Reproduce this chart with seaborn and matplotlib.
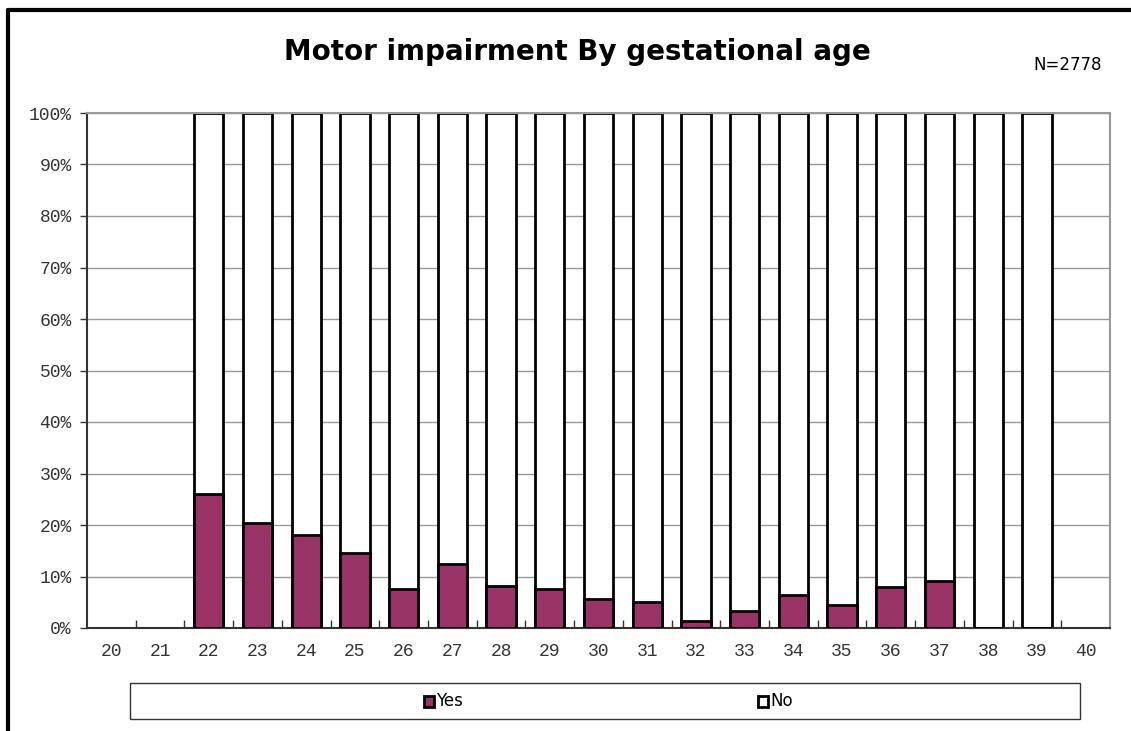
import numpy as np
import pandas as pd
import matplotlib.pyplot as plt
import seaborn as sns
from matplotlib.patches import Rectangle

# gestational ages on the axis (20, 21, 40 have no data)
all_weeks = [str(w) for w in range(20, 41)]
weeks = [str(w) for w in range(22, 40)]
yes_pct = [26.0, 20.4, 18.1, 14.6, 7.6, 12.4, 8.2, 7.6, 5.6, 5.0,
           1.4, 3.3, 6.4, 4.5, 8.0, 9.1, 0.0, 0.0]
no_pct = [100 - v for v in yes_pct]

df = pd.DataFrame({'week': weeks, 'Yes': yes_pct, 'No': no_pct})
df['total'] = df['Yes'] + df['No']

sns.set_style('white')
plt.rcParams['font.family'] = ['DejaVu Sans']
plt.rcParams['text.color'] = 'black'

fig = plt.figure(figsize=(11.31, 7.31), dpi=100)
ax = fig.add_axes([87 / 1131, 1 - 628 / 731, (1110 - 87) / 1131, (628 - 113) / 731])

purple = '#993366'
sns.barplot(data=df, x='week', y='total', order=all_weeks, color='white',
            edgecolor='black', linewidth=2, width=0.6, saturation=1, ax=ax, zorder=2)
sns.barplot(data=df, x='week', y='Yes', order=all_weeks, color=purple,
            edgecolor='black', linewidth=2, width=0.6, saturation=1, ax=ax, zorder=3)

ax.set_ylim(0, 100)
ax.set_xlim(-0.5, len(all_weeks) - 0.5)
ax.set_yticks(np.arange(0, 101, 10))
ax.set_yticklabels([f'{v}%' for v in range(0, 101, 10)],
                   family='Liberation Mono', fontsize=13, color='#333333')
ax.set_xticks(range(len(all_weeks)))
ax.set_xticklabels(all_weeks, family='Liberation Mono', fontsize=13, color='#333333')
ax.tick_params(axis='x', length=0, pad=11)
ax.tick_params(axis='y', length=5, width=1, color='#333333', direction='out', pad=6, left=True)
# small inward tick marks between categories
ax.set_xticks(np.arange(0.5, len(all_weeks) - 0.5, 1), minor=True)
ax.tick_params(axis='x', which='minor', length=6, width=1, color='#333333', direction='in', bottom=True)
ax.set_xlabel('')
ax.set_ylabel('')
ax.grid(axis='y', color='#999999', linewidth=1, zorder=0)
ax.set_axisbelow(True)
for side in ['top', 'right']:
    ax.spines[side].set_color('#999999')
    ax.spines[side].set_linewidth(1.5)
for side in ['left', 'bottom']:
    ax.spines[side].set_color('#333333')
    ax.spines[side].set_linewidth(1.5)

fig.text(577 / 1131, 1 - 52 / 731, 'Motor impairment By gestational age',
         ha='center', va='center', fontsize=20, fontweight='bold', color='black')
fig.text(1068 / 1131, 1 - 65 / 731, 'N=2778', ha='center', va='center',
         fontsize=12, color='black')

# outer chart frame
fig.add_artist(plt.Line2D([8 / 1131, 8 / 1131], [0, 1 - 10 / 731], color='black', lw=3))
fig.add_artist(plt.Line2D([8 / 1131, 1], [1 - 10 / 731, 1 - 10 / 731], color='black', lw=3))

# legend box
fig.add_artist(Rectangle((130 / 1131, 1 - 719 / 731), (1080 - 130) / 1131, 36 / 731,
                         transform=fig.transFigure, facecolor='white',
                         edgecolor='#333333', lw=1))
for xpix, lab, col in [(424, 'Yes', purple), (758, 'No', 'white')]:
    fig.add_artist(Rectangle((xpix / 1131, 1 - 707 / 731), 10 / 1131, 11 / 731,
                             transform=fig.transFigure, facecolor=col,
                             edgecolor='black', lw=2))
    fig.text((xpix + 12) / 1131, 1 - 701 / 731, lab, ha='left', va='center',
             fontsize=12, color='black')

fig.savefig('out.png', dpi=100)
